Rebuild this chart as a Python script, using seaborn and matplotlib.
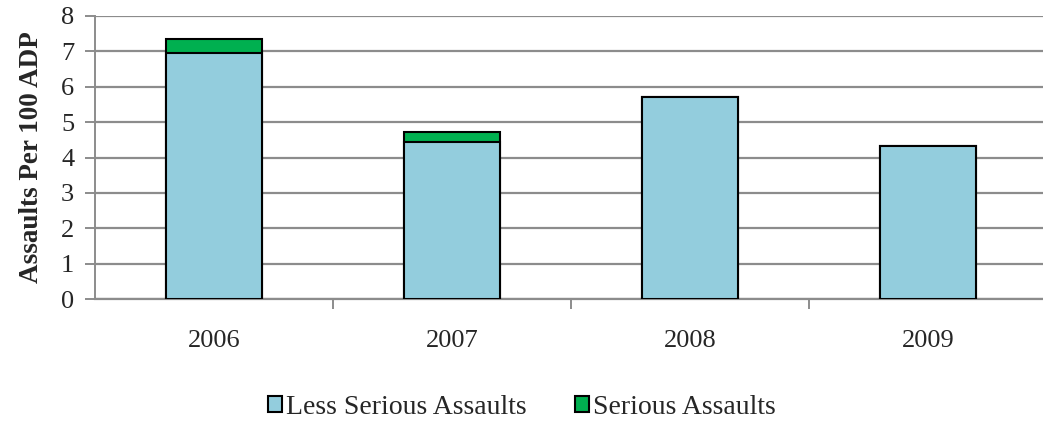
import pandas as pd
import numpy as np
import matplotlib
matplotlib.use("Agg")
import matplotlib.pyplot as plt
import seaborn as sns
from matplotlib.patches import Patch

years = ["2006", "2007", "2008", "2009"]
less_serious = [6.95, 4.44, 5.71, 4.32]
serious = [0.40, 0.28, 0.0, 0.0]

df = pd.DataFrame({"Year": years, "Less": less_serious, "Serious": serious})
df["Total"] = df["Less"] + df["Serious"]

sns.set_style("white")
plt.rcParams["font.family"] = ["Liberation Serif", "DejaVu Serif"]

blue = "#93CDDD"
green = "#00B050"

fig = plt.figure(figsize=(10.43, 4.21), dpi=100)
ax = fig.add_axes([95 / 1043, 1 - 299 / 421, 952 / 1043, 283 / 421])

# stacked: draw totals in green, then the lower part in blue over it
sns.barplot(data=df, x="Year", y="Total", color=green, width=0.4,
            edgecolor="black", linewidth=1.5, saturation=1, ax=ax, zorder=3)
sns.barplot(data=df, x="Year", y="Less", color=blue, width=0.4,
            edgecolor="black", linewidth=1.5, saturation=1, ax=ax, zorder=4)

ax.set_ylim(0, 8)
ax.set_xlim(-0.5, 3.5)
ax.set_yticks(range(0, 9))
ax.yaxis.grid(True, color="#8c8c8c", linewidth=1.6, zorder=0)
ax.set_axisbelow(True)
for s in ["top", "right"]:
    ax.spines[s].set_visible(False)
ax.spines["left"].set_color("#8c8c8c")
ax.spines["left"].set_linewidth(1.4)
ax.spines["bottom"].set_color("#8c8c8c")
ax.spines["bottom"].set_linewidth(1.6)

ax.tick_params(axis="y", which="major", direction="out", length=7, width=1.4,
               color="#8c8c8c", labelsize=19, left=True, pad=8)
ax.set_xticks([0.5, 1.5, 2.5], minor=True)
ax.tick_params(axis="x", which="major", length=0, labelsize=19, pad=22)
ax.tick_params(axis="x", which="minor", direction="out", length=7, width=1.4,
               color="#8c8c8c", bottom=True)
ax.set_xlabel("")
ax.set_ylabel("Assaults Per 100 ADP", fontsize=19.5, fontweight="bold", labelpad=12)

handles = [Patch(facecolor=blue, edgecolor="black", linewidth=1.5, label="Less Serious Assaults"),
           Patch(facecolor=green, edgecolor="black", linewidth=1.5, label="Serious Assaults")]
fig.legend(handles=handles, loc="center", bbox_to_anchor=(522 / 1043, 1 - 407 / 421),
           ncol=2, frameon=False, fontsize=20, handlelength=0.5, handleheight=0.5,
           handletextpad=0.15, columnspacing=1.75)

fig.savefig("out.png", dpi=100)
